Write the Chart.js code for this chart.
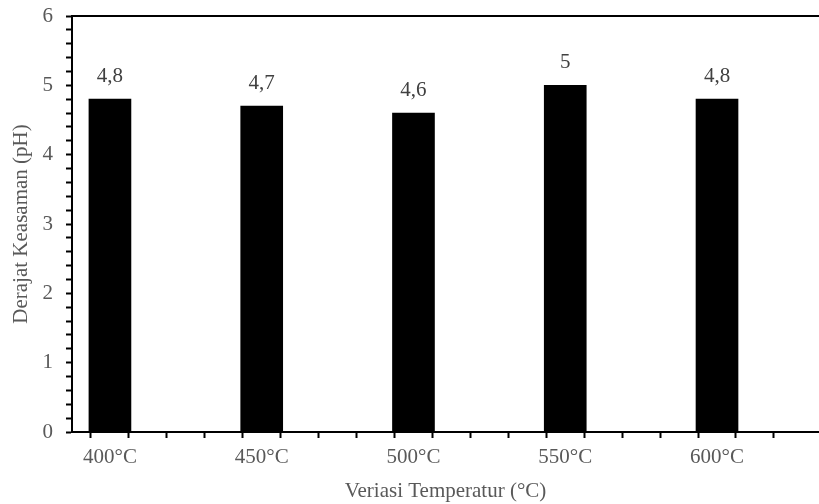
<!DOCTYPE html>
<html>
<head>
<meta charset="utf-8">
<script src="https://cdn.jsdelivr.net/npm/chart.js@4"></script>
<style>
 body{margin:0;background:#fff}
 #wrap{width:819px;height:504px}
</style>
</head>
<body>
<div id="wrap"><canvas id="phChart"></canvas></div>
<script>
const temps=[400,450,500,550,600]
const phValues=[4.8,4.7,4.6,5,4.8]
const yTicks=[0,1,2,3,4,5,6]

const serif="'Liberation Serif','Times New Roman',serif"
const grey="#595959"

// labels above the bars, e.g. "4,8"
const barLabels={
  id:"barLabels",
  afterDatasetsDraw(chart){
    const ctx=chart.ctx
    const meta=chart.getDatasetMeta(0)
    ctx.save()
    ctx.font="21px "+serif
    ctx.fillStyle="#404040"
    ctx.textAlign="center"
    ctx.textBaseline="middle"
    meta.data.forEach((bar,i)=>{
      ctx.fillText(String(phValues[i]).replace(".",","),bar.x,bar.y-23)
    })
    ctx.restore()
  }
}

new Chart(document.getElementById("phChart"),{
  type:"bar",
  data:{
    datasets:[{
      label:"Derajat Keasaman (pH)",
      data:temps.map((t,i)=>({x:t,y:phValues[i]})),
      backgroundColor:"#000",
      barThickness:42
    }]
  },
  options:{
    responsive:true,
    maintainAspectRatio:false,
    animation:false,
    layout:{padding:{top:16,right:0,left:0,bottom:0}},
    plugins:{legend:{display:false},tooltip:{enabled:false}},
    scales:{
      x:{
        type:"linear",
        offset:false,
        min:387.5,
        max:633.6,
        afterBuildTicks(s){s.ticks=s.ticks.filter(t=>Math.abs((t.value-387.5)/12.5-Math.round((t.value-387.5)/12.5))<1e-6)},
        afterFit(s){s.height=72;s.paddingLeft=0;s.paddingRight=0},
        ticks:{
          stepSize:12.5,
          autoSkip:false,
          maxRotation:0,
          padding:7,
          color:grey,
          font:{family:serif,size:21},
          callback:v=>temps.includes(v)?v+"°C":""
        },
        grid:{display:true,drawOnChartArea:false,tickLength:6,tickColor:"#000",tickWidth:2},
        border:{display:true,color:"#000",width:2},
        title:{display:true,text:"Veriasi Temperatur (°C)",color:grey,font:{family:serif,size:21},padding:{top:2,bottom:0}}
      },
      x2:{
        type:"linear",
        position:"top",
        offset:false,
        min:387.5,
        max:633.6,
        afterFit(s){s.height=0;s.paddingLeft=0;s.paddingRight=0},
        ticks:{display:false},
        grid:{display:false,drawTicks:false},
        border:{display:true,color:"#000",width:2}
      },
      y:{
        min:0,
        max:6,
        afterFit(s){s.width=72;s.paddingTop=0;s.paddingBottom=0},
        ticks:{
          stepSize:0.2,
          autoSkip:false,
          padding:13,
          color:grey,
          font:{family:serif,size:21},
          callback:v=>{const r=Math.round(v);return Math.abs(v-r)<1e-6&&yTicks.includes(r)?String(r):""}
        },
        grid:{display:true,drawOnChartArea:false,tickLength:6,tickColor:"#000",tickWidth:2},
        border:{display:true,color:"#000",width:2},
        title:{display:true,text:"Derajat Keasaman (pH)",color:grey,font:{family:serif,size:21},padding:{top:9,bottom:0}}
      }
    }
  },
  plugins:[barLabels]
})
</script>
</body>
</html>
